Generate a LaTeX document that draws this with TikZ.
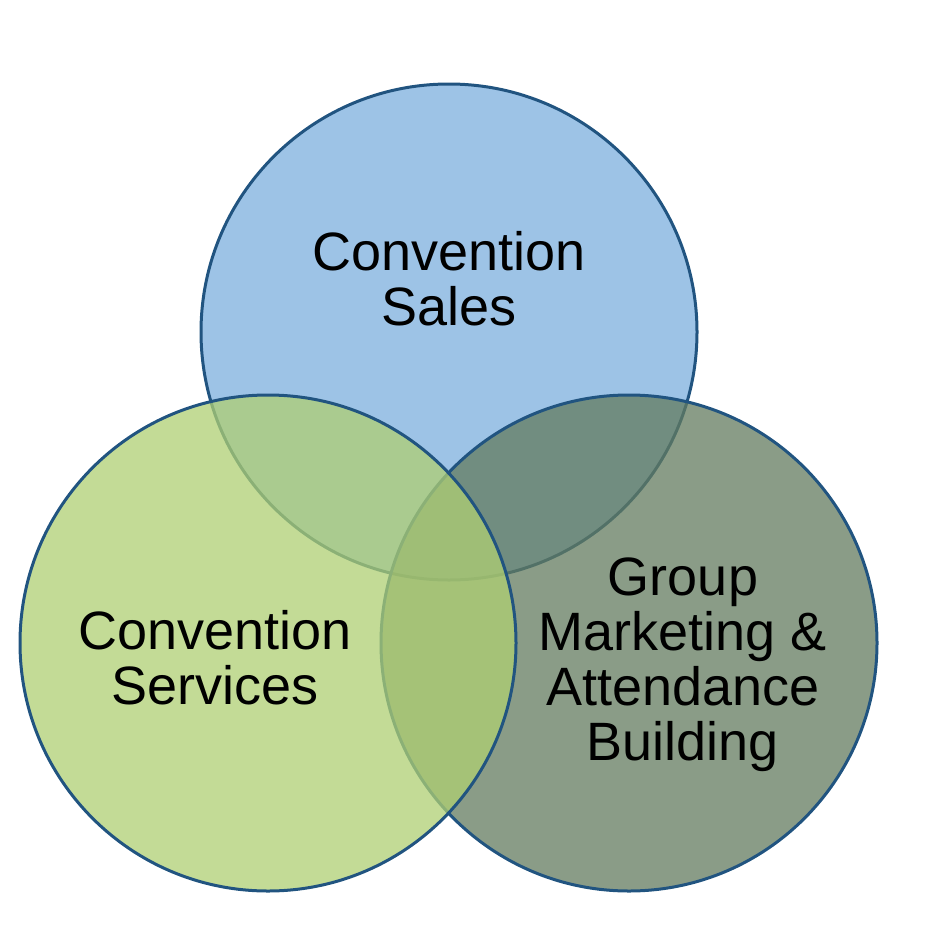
\documentclass[tikz,border=0pt]{standalone}
\usepackage{fontspec}
\setmainfont{Liberation Sans}
\definecolor{salesblue}{RGB}{157,195,230}
\definecolor{servgreen}{RGB}{175,207,115}
\definecolor{mktgreen}{RGB}{99,123,95}
\definecolor{rimblue}{RGB}{33,84,128}
\begin{document}
\begin{tikzpicture}[x=1pt, y=-1pt,
  ring/.style={circle, draw=rimblue, line width=3pt, minimum size=496pt, inner sep=0pt, fill opacity=0.75},
  areatext/.style={font=\fontsize{54}{55}\selectfont, align=center, inner sep=0pt, text=black}]
\useasboundingbox (0,0) rectangle (937,942);
% circles, bottom to top
\node[ring, fill=salesblue, fill opacity=1] (sales) at (449,332) {};
\node[ring, fill=mktgreen] (mkt) at (629,643) {};
\node[ring, fill=servgreen] (serv) at (268,643) {};
% texts
\node[areatext] (salestext) at (449,279) {Convention\\Sales};
\node[areatext] (servtext) at (215,658) {Convention\\Services};
\node[areatext] (mkttext) at (683,665) {Group\\Marketing \&\\Attendance\\Building};
\end{tikzpicture}
\end{document}
